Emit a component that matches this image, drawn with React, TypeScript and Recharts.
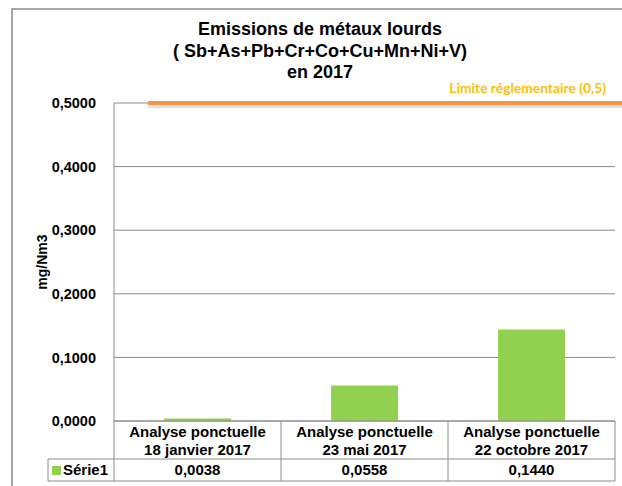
import React from "react";
import {
  BarChart,
  Bar,
  XAxis,
  YAxis,
  CartesianGrid,
  ReferenceLine,
} from "recharts";

// Emissions de métaux lourds 2017, one series, Excel-style data table under the axis.
const categories = [
  "Analyse ponctuelle\n18 janvier 2017",
  "Analyse ponctuelle\n23 mai 2017",
  "Analyse ponctuelle\n22 octobre 2017",
];
const serie1 = [0.0038, 0.0558, 0.144];
const yTicks = [0, 0.1, 0.2, 0.3, 0.4, 0.5];
const limite = 0.5;
const seriesName = "Série1";
const titleLines = [
  "Emissions de métaux lourds",
  "( Sb+As+Pb+Cr+Co+Cu+Mn+Ni+V)",
  "en 2017",
];
const limiteLabel = "Limite réglementaire (0,5)";

const W = 622;
const H = 486;
const FONT = "'Liberation Sans', Arial, sans-serif";
const GREEN = "#92D050";
const GRID = "#8c8c8c";
const TABLE = "#8c8c8c";
const margin = { top: 103, right: 7, bottom: 0, left: 0 };
const yAxisWidth = 114;
const plotW = W - margin.left - margin.right - yAxisWidth;
const band = plotW / categories.length;

const fmt = (v: number) => v.toFixed(4).replace(".", ",");

const data = categories.map((c, i) => ({ name: c, value: serie1[i] }));

function TableTick(props: any) {
  const { x, y, payload, index } = props;
  const [l1, l2] = String(payload.value).split("\n");
  const left = x - band / 2;
  const right = x + band / 2;
  const r1 = y + 38;
  const r2 = y + 60;
  return (
    <g fontFamily={FONT} fontWeight="bold" fill="#000">
      <text x={x} y={y + 16} textAnchor="middle" fontSize={15}>
        {l1}
      </text>
      <text x={x} y={y + 34} textAnchor="middle" fontSize={15}>
        {l2}
      </text>
      <text x={x} y={y + 54} textAnchor="middle" fontSize={15}>
        {fmt(serie1[index])}
      </text>
      <line x1={right} y1={y} x2={right} y2={r2} stroke={TABLE} />
      <line x1={left} y1={r1} x2={right} y2={r1} stroke={TABLE} />
      <line x1={left} y1={r2} x2={right} y2={r2} stroke={TABLE} />
      {index === 0 && (
        <g>
          <line x1={left} y1={y} x2={left} y2={r2} stroke={TABLE} />
          <line x1={48} y1={r1} x2={left} y2={r1} stroke={TABLE} />
          <line x1={48} y1={r2} x2={left} y2={r2} stroke={TABLE} />
          <line x1={48} y1={r1} x2={48} y2={r2} stroke={TABLE} />
          <rect x={52} y={y + 45} width={9} height={9} fill={GREEN} />
          <text x={63} y={y + 54} fontSize={15}>
            {seriesName}
          </text>
        </g>
      )}
    </g>
  );
}

function LimitShape(props: any) {
  const { x1, y1, x2 } = props;
  const start = x1 + 34;
  const end = x2 + 10;
  return (
    <g>
      <line x1={start} y1={y1 + 3} x2={end} y2={y1 + 3} stroke="#000" strokeOpacity={0.12} strokeWidth={4} />
      <line x1={start} y1={y1} x2={end} y2={y1} stroke="#F79646" strokeWidth={4} />
      <text
        x={x2 - 9}
        y={y1 - 10}
        textAnchor="end"
        fontFamily="Lato, 'Open Sans', sans-serif"
        fontWeight="bold"
        fontSize={13.8}
        fill="#FFC000"
      >
        {limiteLabel}
      </text>
    </g>
  );
}

function YLabel(props: any) {
  const vb = props.viewBox || {};
  const cx = (vb.x ?? 0) + 42;
  const cy = (vb.y ?? 0) + (vb.height ?? 0) / 2;
  return (
    <text
      x={cx}
      y={cy}
      transform={`rotate(-90, ${cx}, ${cy})`}
      textAnchor="middle"
      dominantBaseline="central"
      fontFamily={FONT}
      fontWeight="bold"
      fontSize={14}
      fill="#000"
    >
      mg/Nm3
    </text>
  );
}

export default function App() {
  return (
    <div style={{ position: "absolute", left: 0, top: 0, width: W, height: H, background: "#fff", overflow: "hidden" }}>
      <div
        style={{
          position: "absolute",
          left: 11,
          top: 8,
          width: W,
          height: H,
          borderLeft: "2px solid #a6a6a6",
          borderTop: "2px solid #a6a6a6",
        }}
      />
      <div
        style={{
          position: "absolute",
          left: 120,
          top: 19,
          width: 400,
          textAlign: "center",
          fontFamily: FONT,
          fontWeight: "bold",
          fontSize: 18,
          lineHeight: "21.5px",
          color: "#000",
        }}
      >
        {titleLines.map((t) => (
          <div key={t}>{t}</div>
        ))}
      </div>
      <div style={{ position: "absolute", left: 0, top: 0 }}>
        <BarChart width={W} height={H} data={data} margin={margin} barCategoryGap="30%">
          <CartesianGrid vertical={false} stroke={GRID} />
          <XAxis
            dataKey="name"
            interval={0}
            height={65}
            tickLine={false}
            tickSize={0}
            tickMargin={0}
            axisLine={{ stroke: TABLE }}
            tick={<TableTick />}
          />
          <YAxis
            width={yAxisWidth}
            domain={[0, 0.5]}
            ticks={yTicks}
            tickFormatter={fmt}
            tickLine={false}
            tickMargin={12}
            axisLine={{ stroke: GRID }}
            tick={{ fontFamily: FONT, fontWeight: "bold", fontSize: 14.5, fill: "#000" }}
            label={<YLabel />}
          />
          <Bar dataKey="value" fill={GREEN} isAnimationActive={false} />
          <ReferenceLine y={limite} ifOverflow="visible" shape={<LimitShape />} />
        </BarChart>
      </div>
    </div>
  );
}
